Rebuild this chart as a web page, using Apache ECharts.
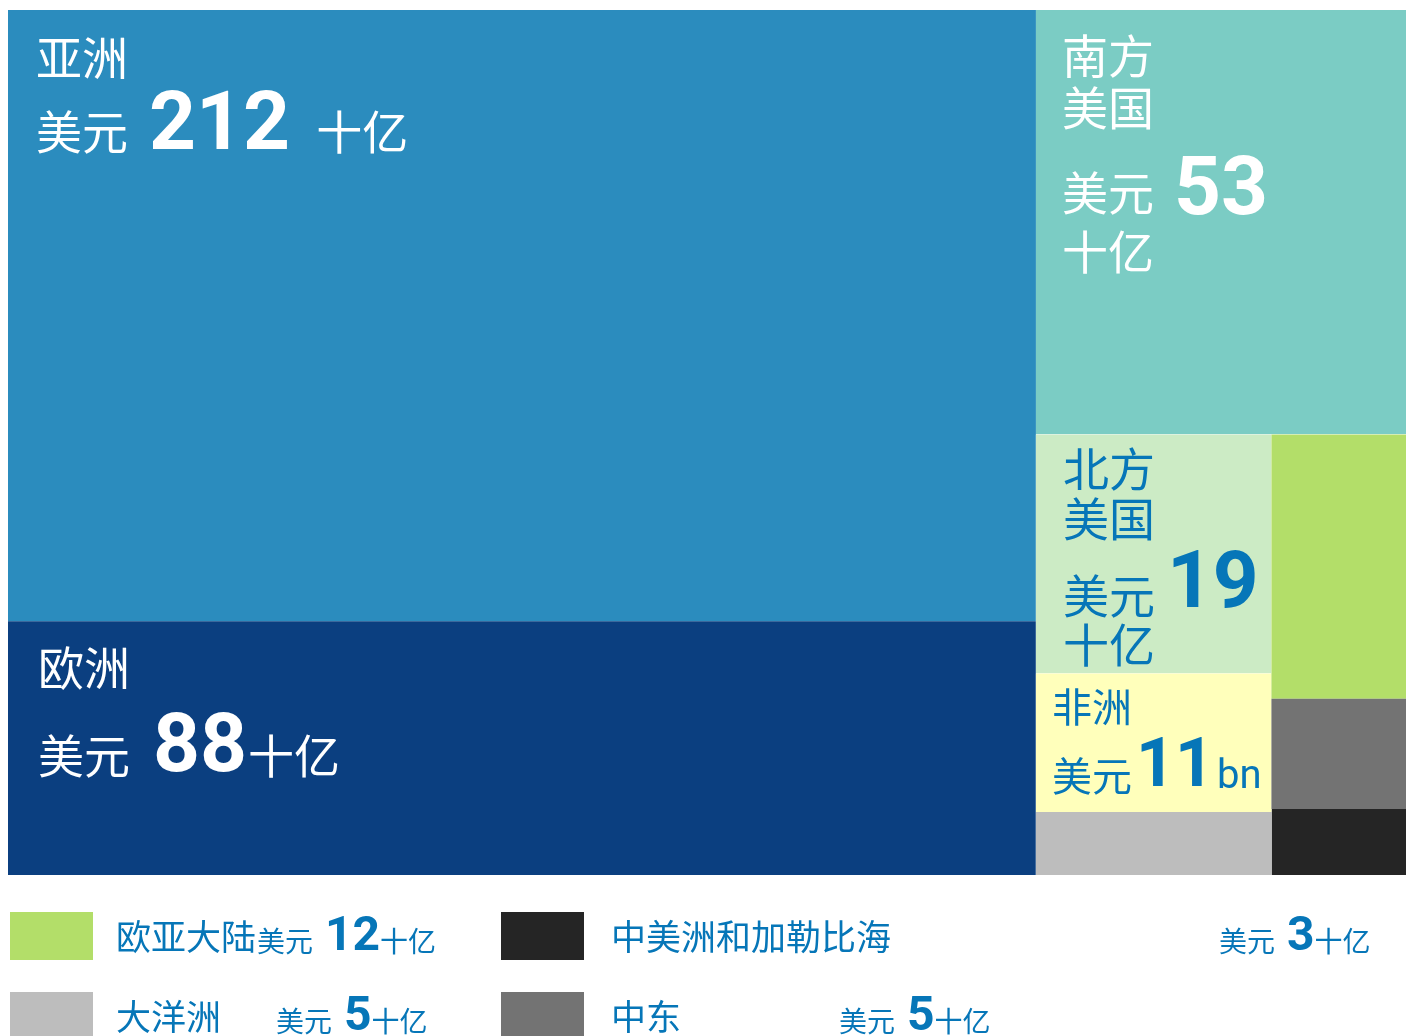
<!DOCTYPE html>
<html>
<head>
<meta charset="utf-8">
<script src="https://cdn.jsdelivr.net/npm/echarts@6/dist/echarts.min.js"></script>
<style>
  html, body { margin: 0; padding: 0; background: #ffffff; }
  #chart { width: 1406px; height: 1036px; }
</style>
</head>
<body>
<div id="chart"></div>
<script>
// Spending by region, US$ billion
const regionNames = ['亚洲', '欧洲', '南方\n美国', '北方\n美国', '非洲', '大洋洲', '欧亚大陆', '中东', '中美洲和加勒比海'];
const spendBn = [212, 88, 53, 19, 11, 5, 12, 5, 3];
const unitLabels = ['十亿', '十亿', '十亿', '十亿', 'bn', '十亿', '十亿', '十亿', '十亿'];
const currencyLabel = '美元';
const cellColors = ['#2b8cbe', '#0b3f80', '#7bccc4', '#ccebc5', '#ffffbb', '#bdbdbd', '#b3de69', '#737373', '#252525'];
// regions explained in the key below the map (row by row)
const legendRegions = [6, 8, 5, 7];

const FONT = 'Roboto, "Noto Sans CJK SC", sans-serif';
const TEXT_BLUE = '#0676b8';

// label typography for the regions that carry their text inside the cell
const cellLabelStyles = {
  0: { color: '#ffffff', pos: [28, 30], cjk: 46, num: 82, unit: 46, nameLH: [47], numPad: [21, 26], curLift: 9, unitLift: 9, unitBreak: false },
  1: { color: '#ffffff', pos: [30, 29], cjk: 46, num: 82, unit: 46, nameLH: [59], numPad: [23, 1], curLift: 7, unitLift: 7, unitBreak: false },
  2: { color: '#ffffff', pos: [26, 28], cjk: 46, num: 82, unit: 46, nameLH: [52, 62], numPad: [20, 0], curLift: 13, unitLH: 46, unitBreak: true },
  3: { color: TEXT_BLUE, pos: [27, 17], cjk: 46, num: 80, unit: 46, nameLH: [50, 46], numPad: [12, 0], curLift: 3, unitLH: 44, unitBreak: true },
  4: { color: TEXT_BLUE, pos: [16, 18], cjk: 40, num: 68, unit: 40, nameLH: [43], numPad: [4, 3], curLift: 2, unitLift: 5, unitBreak: false }
};

function cellLabel(i) {
  const s = cellLabelStyles[i];
  if (!s) return { show: false };
  const nameRows = regionNames[i].split('\n').map((t, k) => '{n' + k + '|' + t + '}');
  const valueRow = '{cur|' + currencyLabel + '}{num|' + spendBn[i] + '}' +
    (s.unitBreak ? '\n' : '') + '{unit|' + unitLabels[i] + '}';
  const text = nameRows.concat([valueRow]).join('\n');
  const rich = {
    cur: { fontSize: s.cjk, verticalAlign: 'bottom', padding: [0, 0, s.curLift, 0] },
    num: { fontSize: s.num, fontWeight: 'bold', verticalAlign: 'bottom', padding: [0, s.numPad[1], 0, s.numPad[0]] },
    unit: s.unitBreak
      ? { fontSize: s.unit, lineHeight: s.unitLH, verticalAlign: 'top' }
      : { fontSize: s.unit, verticalAlign: 'bottom', padding: [0, 0, s.unitLift, 0] }
  };
  s.nameLH.forEach((lh, k) => {
    rich['n' + k] = { fontSize: s.cjk, lineHeight: lh, verticalAlign: 'top' };
  });
  Object.keys(rich).forEach(key => {
    rich[key].color = s.color;
    rich[key].fontFamily = FONT;
  });
  return {
    show: true,
    position: s.pos,
    padding: 0,
    distance: 0,
    overflow: 'none',
    color: s.color,
    fontFamily: FONT,
    formatter: () => text,
    rich: rich
  };
}

const leaf = i => ({
  name: regionNames[i].replace('\n', ''),
  value: spendBn[i],
  itemStyle: { color: cellColors[i] },
  label: cellLabel(i)
});
const group = children => ({
  children: children,
  itemStyle: { borderWidth: 0, gapWidth: 0 },
  label: { show: false }
});

// Asia and Europe form the left column; the Americas and the smaller regions the right one
const treeData = [
  leaf(0),
  leaf(1),
  leaf(2),
  group([
    group([leaf(3), group([leaf(4), leaf(5)])]),
    group([group([leaf(6), leaf(7)]), leaf(8)])
  ])
];

// key for the regions too small to carry their own text
const legendLayout = {
  swatchX: [10, 501], rowTop: [912, 992], swatchW: 83, swatchH: 48,
  nameX: [116, 611], valueX: [257, 1219, 276, 839],
  nameBottom: 47, valueBottom: 50
};
const graphicEls = [];
legendRegions.forEach((ri, k) => {
  const col = k % 2;
  const row = Math.floor(k / 2);
  const top = legendLayout.rowTop[row];
  graphicEls.push({
    type: 'rect',
    shape: { x: legendLayout.swatchX[col], y: top, width: legendLayout.swatchW, height: legendLayout.swatchH },
    style: { fill: cellColors[ri] }
  });
  graphicEls.push({
    type: 'text',
    x: legendLayout.nameX[col],
    y: top + legendLayout.nameBottom,
    style: {
      text: regionNames[ri],
      fontSize: 35,
      fontFamily: FONT,
      fill: TEXT_BLUE,
      verticalAlign: 'bottom'
    }
  });
  graphicEls.push({
    type: 'text',
    x: legendLayout.valueX[k],
    y: top + legendLayout.valueBottom,
    style: {
      text: '{cur|' + currencyLabel + '}{num|' + spendBn[ri] + '}{unit|' + unitLabels[ri] + '}',
      verticalAlign: 'bottom',
      fill: TEXT_BLUE,
      rich: {
        cur: { fontSize: 28, fontFamily: FONT, fill: TEXT_BLUE, verticalAlign: 'bottom', padding: [0, 0, 3, 0] },
        num: { fontSize: 48, fontFamily: FONT, fontWeight: 'bold', fill: TEXT_BLUE, verticalAlign: 'bottom', padding: [0, 0, 0, 12] },
        unit: { fontSize: 28, fontFamily: FONT, fill: TEXT_BLUE, verticalAlign: 'bottom', padding: [0, 0, 3, 0] }
      }
    }
  });
});

const chart = echarts.init(document.getElementById('chart'), null, { renderer: 'canvas' });
chart.setOption({
  animation: false,
  backgroundColor: '#ffffff',
  series: [{
    type: 'treemap',
    left: 8,
    top: 10,
    width: 1398,
    height: 865,
    squareRatio: 1.9,
    sort: false,
    roam: false,
    nodeClick: false,
    breadcrumb: { show: false },
    itemStyle: { borderWidth: 0, gapWidth: 0, borderRadius: 0 },
    upperLabel: { show: false },
    emphasis: { disabled: true },
    data: treeData
  }],
  graphic: graphicEls
});
</script>
</body>
</html>
